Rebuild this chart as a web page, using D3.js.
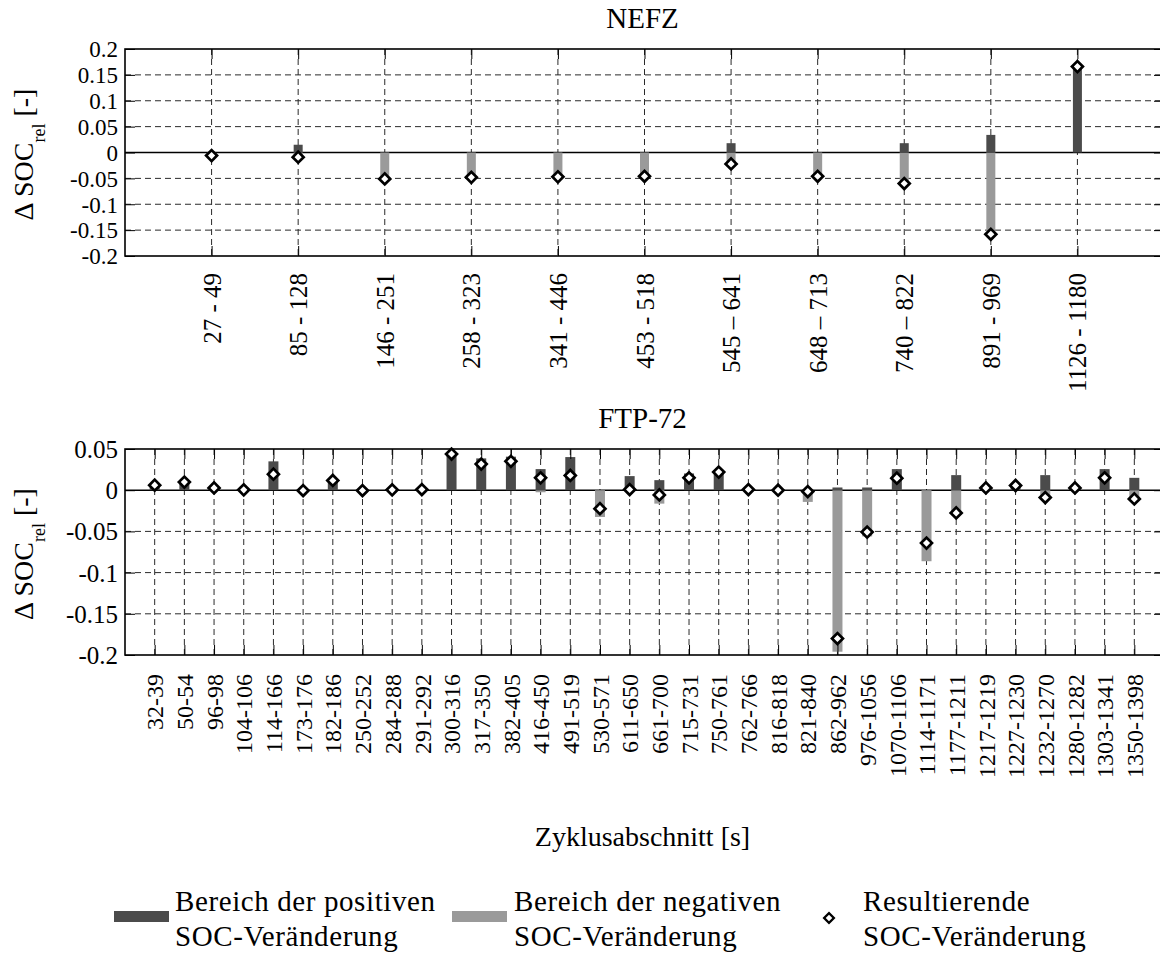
<!DOCTYPE html>
<html>
<head>
<meta charset="utf-8">
<script src="https://cdn.jsdelivr.net/npm/d3@7"></script>
<style>
  html, body { margin: 0; padding: 0; background: #fff; }
  svg { display: block; }
  text { font-family: "Liberation Serif", "Times New Roman", serif; fill: #000; }
</style>
</head>
<body>
<svg id="chart" width="1160" height="953"></svg>
<script>
// ---- NEFZ cycle sections ----
const nefzCategories = ["27 - 49", "85 - 128", "146 - 251", "258 - 323", "341 - 446", "453 - 518",
  "545 \u2013 641", "648 \u2013 713", "740 \u2013 822", "891 - 969", "1126 - 1180"];
const nefzPositive = [0, 0.015, 0, 0, 0, 0, 0.018, 0, 0.018, 0.034, 0.166];
const nefzNegative = [-0.006, -0.009, -0.05, -0.048, -0.047, -0.045, -0.022, -0.046, -0.06, -0.152, 0];
const nefzResult   = [-0.006, -0.009, -0.051, -0.048, -0.047, -0.046, -0.022, -0.046, -0.06, -0.158, 0.166];
const nefzTicks = [0.2, 0.15, 0.1, 0.05, 0, -0.05, -0.1, -0.15, -0.2];

// ---- FTP-72 cycle sections ----
const ftpCategories = ["32-39", "50-54", "96-98", "104-106", "114-166", "173-176", "182-186", "250-252",
  "284-288", "291-292", "300-316", "317-350", "382-405", "416-450", "491-519", "530-571", "611-650",
  "661-700", "715-731", "750-761", "762-766", "816-818", "821-840", "862-962", "976-1056", "1070-1106",
  "1114-1171", "1177-1211", "1217-1219", "1227-1230", "1232-1270", "1280-1282", "1303-1341", "1350-1398"];
const ftpPositive = [0.006, 0.010, 0.003, 0, 0.035, 0, 0.012, 0, 0.0005, 0.001, 0.043, 0.0386, 0.0407,
  0.0256, 0.0402, 0, 0.0171, 0.0122, 0.0203, 0.0224, 0.001, 0, 0, 0.0033, 0.0033, 0.0256, 0, 0.0183,
  0.003, 0.006, 0.0183, 0.003, 0.0256, 0.015];
const ftpNegative = [0, 0, 0, 0, 0, 0, 0, 0, 0, 0, 0, 0, 0, -0.0025, 0, -0.0325, 0, -0.0163, 0, 0, 0, 0,
  -0.0142, -0.196, -0.0561, 0, -0.0862, -0.03, 0, 0, -0.011, 0, 0, -0.012];
const ftpResult = [0.0061, 0.0098, 0.0028, 0.0004, 0.0195, -0.0004, 0.0118, -0.0004, 0.0004, 0.0008,
  0.0439, 0.0317, 0.035, 0.015, 0.0179, -0.0224, 0.0008, -0.0057, 0.015, 0.022, 0.0008, 0, -0.0016,
  -0.18, -0.0508, 0.0146, -0.0642, -0.0276, 0.0028, 0.0057, -0.0089, 0.0028, 0.015, -0.0106];
const ftpTicks = [0.05, 0, -0.05, -0.1, -0.15, -0.2];

// ---- legend entries ----
const legendPositive = ["Bereich der positiven", "SOC-Ver\u00e4nderung"];
const legendNegative = ["Bereich der negativen", "SOC-Ver\u00e4nderung"];
const legendResult   = ["Resultierende", "SOC-Ver\u00e4nderung"];
const xAxisTitle = "Zyklusabschnitt [s]";

const COLOR_POS = "#4b4b4b";
const COLOR_NEG = "#9a9a9a";
const GRID = "#2a2a2a";

const svg = d3.select("#chart");
const plotLeft = 125, plotRight = 1164;

const fmt = d => { const v = +d.toFixed(2); return v === 0 ? "0" : String(v); };
const diamond = d3.symbol().type(d3.symbolSquare);

function drawPanel(opt) {
  const g = svg.append("g");
  const x = d3.scalePoint().domain(opt.categories).range([plotLeft, plotRight]).padding(opt.padding);
  const y = d3.scaleLinear().domain(opt.domain).range([opt.bottom, opt.top]);

  // title
  g.append("text").attr("x", (plotLeft + plotRight) / 2 - 2).attr("y", opt.titleY)
    .attr("text-anchor", "middle").attr("font-size", 29).text(opt.title);

  // horizontal dashed grid
  g.append("g").selectAll("line").data(opt.ticks.filter(t => t !== 0 && t !== opt.domain[0] && t !== opt.domain[1]))
    .join("line")
    .attr("x1", plotLeft).attr("x2", plotRight)
    .attr("y1", d => y(d)).attr("y2", d => y(d))
    .attr("stroke", GRID).attr("stroke-width", 1).attr("stroke-dasharray", "6,4");

  // vertical dashed grid
  g.append("g").selectAll("line").data(opt.categories).join("line")
    .attr("x1", d => x(d)).attr("x2", d => x(d))
    .attr("y1", opt.top).attr("y2", opt.bottom)
    .attr("stroke", GRID).attr("stroke-width", 1).attr("stroke-dasharray", "6,4");

  // zero line
  g.append("line").attr("x1", plotLeft).attr("x2", plotRight)
    .attr("y1", y(0)).attr("y2", y(0)).attr("stroke", "#000").attr("stroke-width", 1.5);

  const idx = d3.range(opt.categories.length);
  // negative parts
  g.append("g").selectAll("rect").data(idx.filter(i => opt.negative[i] < 0)).join("rect")
    .attr("x", i => x(opt.categories[i]) - opt.barWidth / 2)
    .attr("width", opt.barWidth)
    .attr("y", y(0))
    .attr("height", i => y(opt.negative[i]) - y(0))
    .attr("fill", COLOR_NEG);
  // positive parts
  g.append("g").selectAll("rect").data(idx.filter(i => opt.positive[i] > 0)).join("rect")
    .attr("x", i => x(opt.categories[i]) - opt.barWidth / 2)
    .attr("width", opt.barWidth)
    .attr("y", i => y(opt.positive[i]))
    .attr("height", i => y(0) - y(opt.positive[i]))
    .attr("fill", COLOR_POS);

  // axes with inward ticks
  const yl = g.append("g").attr("transform", `translate(${plotLeft},0)`)
    .call(d3.axisLeft(y).tickValues(opt.ticks).tickFormat(fmt).tickSize(-10).tickPadding(7));
  yl.select(".domain").remove();
  yl.selectAll("text").attr("font-size", opt.tickSize).attr("font-family", "Liberation Serif, serif").attr("dy", "0.34em");
  yl.selectAll("line").attr("stroke", "#000");

  const yr = g.append("g").attr("transform", `translate(${plotRight},0)`)
    .call(d3.axisRight(y).tickValues(opt.ticks).tickFormat("").tickSize(-10));
  yr.select(".domain").remove();

  const xb = g.append("g").attr("transform", `translate(0,${opt.bottom})`)
    .call(d3.axisBottom(x).tickSize(-10).tickSizeOuter(0));
  xb.select(".domain").remove();
  xb.selectAll("text")
    .attr("font-size", opt.labelSize).attr("font-family", "Liberation Serif, serif")
    .attr("transform", "rotate(-90)")
    .attr("x", -opt.labelGap).attr("y", 0).attr("dy", "0.34em")
    .attr("text-anchor", "end");

  const xt = g.append("g").attr("transform", `translate(0,${opt.top})`)
    .call(d3.axisTop(x).tickSize(-10).tickSizeOuter(0).tickFormat(""));
  xt.select(".domain").remove();

  // frame
  g.append("rect").attr("x", plotLeft).attr("y", opt.top)
    .attr("width", plotRight - plotLeft).attr("height", opt.bottom - opt.top)
    .attr("fill", "none").attr("stroke", "#000").attr("stroke-width", 1.6);

  // y label: Δ SOC_rel [-]
  const yt = g.append("text")
    .attr("transform", `translate(33,${(opt.top + opt.bottom) / 2 + 2}) rotate(-90)`)
    .attr("text-anchor", "middle").attr("font-size", 28);
  yt.append("tspan").text("\u0394 SOC");
  yt.append("tspan").attr("font-size", 18).attr("dy", 12).text("rel");
  yt.append("tspan").attr("dy", -12).text(" [-]");

  // resulting change markers
  g.append("g").selectAll("path").data(idx).join("path")
    .attr("d", diamond.size(60)())
    .attr("transform", i => `translate(${x(opt.categories[i])},${y(opt.result[i])}) rotate(45)`)
    .attr("fill", "#fff").attr("stroke", "#000").attr("stroke-width", 2.7);
}

drawPanel({
  title: "NEFZ", titleY: 28, top: 49, bottom: 256, domain: [-0.2, 0.2],
  categories: nefzCategories, positive: nefzPositive, negative: nefzNegative, result: nefzResult,
  ticks: nefzTicks, tickSize: 23, padding: 1, barWidth: 9, labelSize: 25, labelGap: 17
});

drawPanel({
  title: "FTP-72", titleY: 428, top: 449, bottom: 655, domain: [-0.2, 0.05],
  categories: ftpCategories, positive: ftpPositive, negative: ftpNegative, result: ftpResult,
  ticks: ftpTicks, tickSize: 25, padding: 1, barWidth: 10, labelSize: 24, labelGap: 19
});

// x axis title
svg.append("text").attr("x", (plotLeft + plotRight) / 2 - 2).attr("y", 846)
  .attr("text-anchor", "middle").attr("font-size", 28).text(xAxisTitle);

// legend
const legend = svg.append("g").attr("font-size", 29).attr("letter-spacing", 0.6);
function legendText(xPos, lines) {
  const t = legend.append("text").attr("x", xPos).attr("y", 911);
  lines.forEach((l, i) => t.append("tspan").attr("x", xPos).attr("y", 911 + i * 34.5).text(l));
}
legend.append("rect").attr("x", 114).attr("y", 911).attr("width", 55).attr("height", 11).attr("fill", COLOR_POS);
legendText(175, legendPositive);
legend.append("rect").attr("x", 452).attr("y", 911).attr("width", 55).attr("height", 11).attr("fill", COLOR_NEG);
legendText(514, legendNegative);
legend.append("path").attr("d", diamond.size(48)())
  .attr("transform", "translate(829,918) rotate(45)")
  .attr("fill", "#fff").attr("stroke", "#000").attr("stroke-width", 2.3);
legendText(863, legendResult);
</script>
</body>
</html>
